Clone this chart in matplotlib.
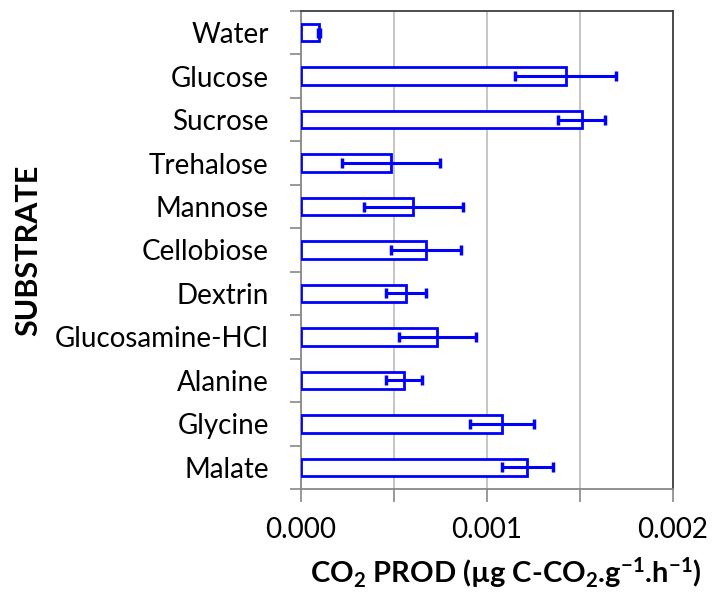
import numpy as np
import matplotlib
matplotlib.use("Agg")
import matplotlib.pyplot as plt

plt.rcParams["font.family"] = ["Lato", "DejaVu Sans"]
plt.rcParams["mathtext.fontset"] = "custom"
plt.rcParams["mathtext.rm"] = "Lato"
plt.rcParams["mathtext.bf"] = "Lato:bold"
plt.rcParams["mathtext.default"] = "bf"

# substrates, top to bottom
substrates = ["Water", "Glucose", "Sucrose", "Trehalose", "Mannose", "Cellobiose",
              "Dextrin", "Glucosamine-HCl", "Alanine", "Glycine", "Malate"]
co2_prod = [0.000100, 0.001425, 0.001511, 0.000485, 0.000605, 0.000674,
            0.000566, 0.000735, 0.000555, 0.001082, 0.001218]
co2_err = [0.000005, 0.000272, 0.000127, 0.000262, 0.000265, 0.000190,
           0.000107, 0.000208, 0.000095, 0.000172, 0.000138]
x_ticks = [0.0, 0.0005, 0.001, 0.0015, 0.002]
x_labels = ["0.000", "", "0.001", "", "0.002"]

blue = "#0000ff"

fig = plt.figure(figsize=(7.15, 5.97), dpi=100)
ax = fig.add_axes([0.4206, 0.1809, 0.5203, 0.8007])

y = np.arange(len(substrates))
ax.barh(y, co2_prod, height=0.4, color="white", edgecolor=blue, linewidth=2, zorder=3)
ax.errorbar(co2_prod, y, xerr=co2_err, fmt="none", ecolor=blue, elinewidth=2.2,
            capsize=3.5, capthick=2.5, zorder=4)

ax.set_ylim(len(substrates) - 0.5, -0.5)
ax.set_yticks(y)
ax.set_yticklabels(substrates, fontsize=20)
ax.set_yticks(np.arange(len(substrates) + 1) - 0.5, minor=True)
ax.tick_params(axis="y", which="major", length=0, pad=23)
ax.tick_params(axis="y", which="minor", length=8, width=1.2, color="#888888")

ax.set_xlim(0, 0.002)
ax.set_xticks(x_ticks)
ax.set_xticklabels(x_labels, fontsize=20)
ax.tick_params(axis="x", length=9, width=1.2, color="#888888", pad=11)
ax.grid(axis="x", color="#c0c0c0", linewidth=1.3, zorder=0)

for side in ["left", "bottom"]:
    ax.spines[side].set_color("#888888")
    ax.spines[side].set_linewidth(1.3)
for side in ["right", "top"]:
    ax.spines[side].set_color("#404040")
    ax.spines[side].set_linewidth(1.3)

ax.set_ylabel("SUBSTRATE", fontsize=22, fontweight="bold")
ax.yaxis.set_label_coords(-0.695, 0.5)
ax.set_xlabel(r"CO$_2$ PROD (µg C-CO$_2$.g$^{-1}$.h$^{-1}$)", fontsize=21,
              fontweight="bold")
ax.xaxis.set_label_coords(0.552, -0.138)

fig.savefig("out.png", dpi=100)
